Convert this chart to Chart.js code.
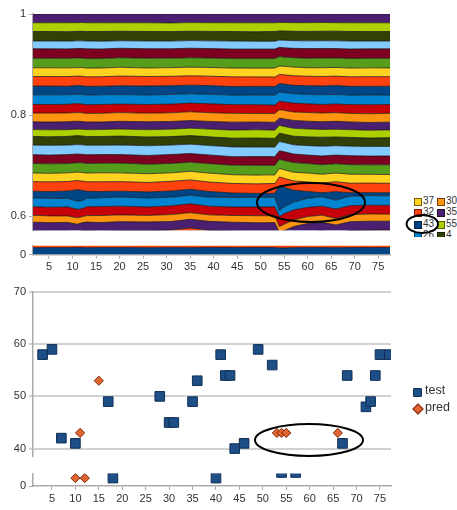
<!DOCTYPE html>
<html>
<head>
<meta charset="utf-8">
<script src="https://cdn.jsdelivr.net/npm/chart.js@4.4.1/dist/chart.umd.min.js"></script>
<style>
  body { margin: 0; background: #fff; width: 457px; height: 510px; position: relative; overflow: hidden;
         font-family: 'Liberation Sans', Arial, sans-serif; color: #333; }
  canvas { position: absolute; }
  .leg { position: absolute; overflow: hidden; }
  .leg div { position: absolute; white-space: nowrap; }
  .sq { width: 6px; height: 6px; border: 1px solid rgba(0,0,0,.55); }
  svg { position: absolute; left: 0; top: 0; }
</style>
</head>
<body>
<canvas id="areaTop" width="400" height="240" style="left:0;top:0"></canvas>
<canvas id="areaLow" width="400" height="40" style="left:0;top:236px"></canvas>
<canvas id="dotsTop" width="400" height="186" style="left:0;top:280px"></canvas>
<canvas id="dotsLow" width="400" height="46" style="left:0;top:464px"></canvas>
<div id="areaLegend" class="leg" style="left:411px;top:196px;width:46px;height:41px;font-size:10px"></div>
<div id="dotsLegend" class="leg" style="left:410px;top:380px;width:47px;height:40px;font-size:12.5px"></div>
<svg width="457" height="510">
  <ellipse cx="311" cy="202.5" rx="54" ry="19.5" fill="none" stroke="#000" stroke-width="2"/>
  <ellipse cx="422.3" cy="224" rx="15.7" ry="9" fill="none" stroke="#000" stroke-width="2"/>
  <ellipse cx="309" cy="440" rx="54" ry="16" fill="none" stroke="#000" stroke-width="2"/>
</svg>
<script>
'use strict';

// ---- stacked shares (per mille, normalised per x below) ----
const xs = [1, 5, 9, 11, 12, 13, 16, 20, 26, 31, 35, 39, 44, 49, 52, 53, 54, 55, 57, 60, 63, 66, 69, 73, 78];

const s01   = [20, 20.5, 20.5, 21, 20.5, 20, 20.5, 20.5, 20, 20.5, 20.5, 21, 20.5, 20.5, 20.5, 20.5, 20, 20, 20.5, 20.5, 20.5, 20, 20.5, 20.5, 20.5];
// series 2..32 lumped together, they never show above the axis break
const sRest = [557, 556, 558, 557, 557, 557, 556, 557, 558, 563, 572, 561, 556, 555, 555, 556, 557, 557, 556, 557, 557, 556, 557, 557, 557];
const s33 = [17.5, 17, 17.5, 17, 16, 17, 17.5, 18, 17.5, 17, 17.5, 18, 17.5, 17, 17, 17, 16, 16.5, 17, 17.5, 17.5, 17, 17.5, 18, 17.5];
const s34 = [14, 13.5, 13, 13, 12, 13, 14, 13.5, 13, 14, 13.5, 13, 13.5, 14, 14, 14, 13, 13, 13.5, 14, 14, 13, 14, 14.5, 14];
const s35 = [17, 17.5, 18, 17, 16, 17.5, 18, 17.5, 17, 17.5, 18, 17.5, 17, 17.5, 17.5, 17.5, 21, 22, 20, 18.5, 18, 19, 18, 17.5, 17.5];
const s36 = [17.5, 17.5, 17, 16.5, 16, 17, 17.5, 18, 18, 17.5, 17.5, 18, 19, 19, 19, 19, 12, 14, 16, 18, 19, 18, 19, 19, 19];
const s37 = [13.5, 13.5, 15, 23, 21, 14, 12.5, 12, 12, 12.5, 12, 11.5, 9, 8, 8, 8, 52, 40, 24, 14, 8, 17, 7, 6, 6];
const s38 = [19, 19.5, 19, 18.5, 18.5, 19, 19.5, 19, 19, 19.5, 19, 19, 19, 19, 19.5, 19.5, 18, 18.5, 19, 19, 19.5, 20, 19, 19, 19];
const s39 = [17.5, 17, 17.5, 17, 17, 17.5, 18, 17.5, 17.5, 17, 17.5, 18, 17.5, 17.5, 17.5, 17, 17.5, 17.5, 17.5, 18, 17.5, 17.5, 18, 17.5, 17.5];
const s40 = [19, 19, 18.5, 19, 19.5, 19, 19, 19.5, 19, 19, 18.5, 19, 19, 19.5, 19, 19, 19, 19, 19.5, 19, 19, 18.5, 19, 19, 19.5];
const s41 = [17.5, 17.5, 18, 17.5, 17, 17.5, 17.5, 17, 17.5, 18, 17.5, 17.5, 17, 17.5, 17.5, 17.5, 17.5, 18, 17.5, 17, 17.5, 17.5, 18, 17.5, 17.5];
const s42 = [19, 19.5, 19, 19, 19, 19, 18.5, 19, 19.5, 19, 19, 19, 19.5, 19, 19, 19, 19, 19, 18.5, 19, 19.5, 19, 19, 19, 19];
const s43 = [17.5, 17, 17.5, 18, 17.5, 17.5, 17.5, 18, 17.5, 17, 17.5, 17.5, 17.5, 18, 17.5, 17.5, 17.5, 17, 17.5, 17.5, 18, 17.5, 17.5, 17, 17.5];
const s44 = [13.5, 14, 13.5, 13, 13.5, 13.5, 14, 14, 14.5, 15, 15, 15.5, 16, 16.5, 16.5, 16.5, 16, 16, 16, 16, 15.5, 15.5, 15.5, 15.5, 15.5];
const s45 = [15.5, 15.5, 16, 16, 15.5, 15.5, 15, 15.5, 16, 15.5, 15.5, 15.5, 16, 15.5, 15.5, 15.5, 15, 15.5, 16, 15.5, 15.5, 16, 15.5, 15.5, 15.5];
const s46 = [17.5, 18, 17.5, 17.5, 17.5, 17, 17.5, 17.5, 17, 17.5, 18, 17.5, 17.5, 17, 17.5, 17.5, 17.5, 17.5, 17, 17.5, 17.5, 17.5, 17, 17.5, 17.5];
const s47 = [17.5, 17, 17.5, 18, 17.5, 17.5, 17.5, 17, 17.5, 17.5, 17.5, 18, 17.5, 17.5, 17, 17, 17.5, 17.5, 18, 17.5, 17, 17.5, 17.5, 18, 17.5];
const s48 = [19, 19.5, 19, 19, 19, 19, 19.5, 19, 19, 19.5, 19, 19, 19, 19, 19.5, 19.5, 19, 19, 19, 19, 19.5, 19, 19, 19, 19];
const s49 = [17.5, 17.5, 17, 17.5, 17.5, 17.5, 17, 17.5, 18, 17.5, 17.5, 17.5, 17, 17.5, 17.5, 17.5, 17.5, 17.5, 17, 17.5, 17.5, 18, 17.5, 17.5, 17.5];
const s50 = [19, 19, 19.5, 19, 19, 19, 19, 19.5, 19, 19, 19, 19, 19.5, 19, 19, 19, 19, 19, 19.5, 19, 19, 19, 19, 19.5, 19];
const s51 = [17.5, 17.5, 17.5, 17, 17.5, 17.5, 17.5, 17.5, 17, 17.5, 17.5, 17.5, 17.5, 17.5, 17.5, 18, 17.5, 17.5, 17.5, 17, 17.5, 17.5, 17.5, 17.5, 17.5];
const s52 = [19, 19, 19, 19.5, 19, 19, 19, 19, 19.5, 19, 19, 19, 19, 19, 19, 19, 19.5, 19, 19, 19, 19.5, 19, 19, 19, 19];
const s53 = [19, 19, 19, 19, 19, 19.5, 19, 19, 19, 19, 19.5, 19, 19, 19, 19, 19, 19, 19, 19, 19.5, 19, 19, 19, 19, 19];
const s54 = [15.5, 15.5, 15.5, 15.5, 15.5, 15.5, 15.5, 15, 15.5, 15.5, 15.5, 15.5, 16, 15.5, 15.5, 15.5, 15, 15.5, 15.5, 15.5, 15.5, 15.5, 16, 15.5, 15.5];
const s55 = [19, 19, 19, 19, 19, 19, 19.5, 19, 19, 19, 19, 19, 19, 19, 19.5, 19.5, 19, 19, 19, 19, 19, 19.5, 19, 19, 19];
const s56 = [17.5, 17.5, 18, 17.5, 17.5, 17.5, 17.5, 17, 17.5, 17.5, 17.5, 17.5, 17.5, 18, 17.5, 17.5, 17.5, 17.5, 17.5, 17.5, 17.5, 17, 17.5, 17.5, 17.5];
const s57 = [17.5, 17.5, 17.5, 17.5, 17, 17.5, 17.5, 17.5, 17.5, 18, 17.5, 17.5, 17.5, 17.5, 17.5, 17.5, 17.5, 17.5, 17.5, 17.5, 17, 17.5, 17.5, 17.5, 17.5];

const palette = ['#004586', '#ff420e', '#ffd320', '#579d1c', '#7e0021', '#83caff',
                 '#314004', '#aecf00', '#4b1f6f', '#ff950e', '#c5000b', '#0084d1'];

// ---- scatter ----
const testX = [3, 5, 7, 10, 17, 18, 28, 30, 31, 35, 36, 40, 41, 42, 43, 44, 46, 49, 52, 54, 57, 67, 68, 72, 73, 74, 75, 77];
const testY = [58, 59, 42, 41, 49, 2, 50, 45, 45, 49, 53, 2, 58, 54, 54, 40, 41, 59, 56, 3.4, 3.4, 41, 54, 48, 49, 54, 58, 58];
const predX = [10, 11, 12, 15, 53, 54, 55, 66];
const predY = [2, 43, 2, 53, 43, 43, 43, 43];

const xTicks = [5, 10, 15, 20, 25, 30, 35, 40, 45, 50, 55, 60, 65, 70, 75];
const areaLegend = [['37', 2], ['30', 9], ['32', 1], ['35', 8], ['43', 0], ['55', 7], ['26', 11], ['4', 6]];

Chart.defaults.font.family = "'Liberation Sans', Arial, sans-serif";
Chart.defaults.font.size = 11;
Chart.defaults.color = '#333';

const AXIS = '#ababab';
const upperSeries = [s01, sRest, s33, s34, s35, s36, s37, s38, s39, s40, s41, s42, s43, s44, s45,
                     s46, s47, s48, s49, s50, s51, s52, s53, s54, s55, s56, s57];
const totals = xs.map((_, i) => upperSeries.reduce((t, s) => t + s[i], 0));

function areaSets(){
  return upperSeries.map((s, k) => {
    const no = k < 2 ? k + 1 : k + 31;
    return {
      data: xs.map((x, i) => ({ x, y: s[i] / totals[i] })),
      backgroundColor: palette[(no - 1) % 12],
      borderColor: 'rgba(20,20,20,.8)', borderWidth: 0.9, borderJoinStyle: 'round',
      pointRadius: 0, tension: 0, fill: k === 0 ? 'origin' : '-1'
    };
  });
}

const tickSet = vals => s => { s.ticks = vals.map(v => ({ value: v })); };
const base = { responsive: false, animation: false, events: [],
  plugins: { legend: { display: false }, tooltip: { enabled: false } } };
const yAxis = (min, max, vals, grid) => ({
  min, max, afterFit: s => { s.width = 33; }, afterBuildTicks: tickSet(vals),
  grid: grid || { drawOnChartArea: false, color: AXIS, tickLength: 4 },
  border: { color: AXIS, width: 1.5 },
  ticks: { padding: 3, callback: v => String(v) }
});
const xAxis = (min, max, h) => ({
  type: 'linear', min, max, afterFit: s => { s.height = h; }, afterBuildTicks: tickSet(xTicks),
  grid: { drawOnChartArea: false, color: AXIS, tickLength: 4 },
  border: { color: AXIS, width: 1.5 },
  ticks: { padding: 2, maxRotation: 0, callback: v => String(v) }
});

// stacked area, upper part of the broken axis
new Chart(document.getElementById('areaTop'), { type: 'line', data: { datasets: areaSets() },
  options: { ...base, layout: { padding: { top: 14, right: 10, bottom: 2.5, left: 0 } },
    scales: { x: { type: 'linear', min: 1.6, max: 77.5, display: false },
              y: { ...yAxis(0.572, 1, [0.6, 0.8, 1]), stacked: true } } } });

// stacked area, strip near zero
new Chart(document.getElementById('areaLow'), { type: 'line', data: { datasets: areaSets() },
  options: { ...base, layout: { padding: { top: 5, right: 10, bottom: 0, left: 0 } },
    scales: { x: xAxis(1.6, 77.5, 21.5), y: { ...yAxis(0, 0.026, [0]), stacked: true } } } });

function dotSets(){
  return [
    { label: 'test', data: testX.map((x, i) => ({ x, y: testY[i] })), order: 1, clip: 0,
      pointStyle: 'rect', pointRadius: 6.8, backgroundColor: '#1d4e85', borderColor: '#102f55', borderWidth: 1 },
    { label: 'pred', data: predX.map((x, i) => ({ x, y: predY[i] })), order: 0, clip: 0,
      pointStyle: 'rectRot', pointRadius: 4.6, backgroundColor: '#e2652f', borderColor: '#7d2a10', borderWidth: 1 }
  ];
}
const gridBottom = { color: '#d2d2d2', lineWidth: 2, tickLength: 4 };

new Chart(document.getElementById('dotsTop'), { type: 'scatter', data: { datasets: dotSets() },
  options: { ...base, layout: { padding: { top: 12, right: 9, bottom: 3, left: 0 } },
    scales: { x: { type: 'linear', min: 0.95, max: 77.35, display: false },
              y: yAxis(38.5, 70, [40, 50, 60, 70], gridBottom) } } });

new Chart(document.getElementById('dotsLow'), { type: 'scatter', data: { datasets: dotSets() },
  options: { ...base, layout: { padding: { top: 5, right: 9, bottom: 0, left: 0 } },
    scales: { x: xAxis(0.95, 77.35, 24), y: yAxis(0, 3.13, [0]) } } });

// legend of the stacked chart (only a few rows of it fit)
const leg = document.getElementById('areaLegend');
areaLegend.forEach(([name, c], i) => {
  const row = Math.floor(i / 2), col = i % 2;
  const top = 1.5 + row * 11.6;
  leg.insertAdjacentHTML('beforeend',
    `<div class="sq" style="left:${col ? 25.5 : 2.5}px;top:${top}px;background:${palette[c]}"></div>` +
    `<div style="left:${col ? 35 : 12}px;top:${top - 3}px">${name}</div>`);
});

const dl = document.getElementById('dotsLegend');
dl.innerHTML =
  '<div style="left:3px;top:8px;width:7px;height:7px;background:#1d4e85;border:1px solid #102f55;border-radius:1px"></div>' +
  '<div style="left:15px;top:3px">test</div>' +
  '<div style="left:4px;top:25px;width:6px;height:6px;background:#e2652f;border:1px solid #7d2a10;transform:rotate(45deg)"></div>' +
  '<div style="left:15px;top:20px">pred</div>';
</script>
</body>
</html>
